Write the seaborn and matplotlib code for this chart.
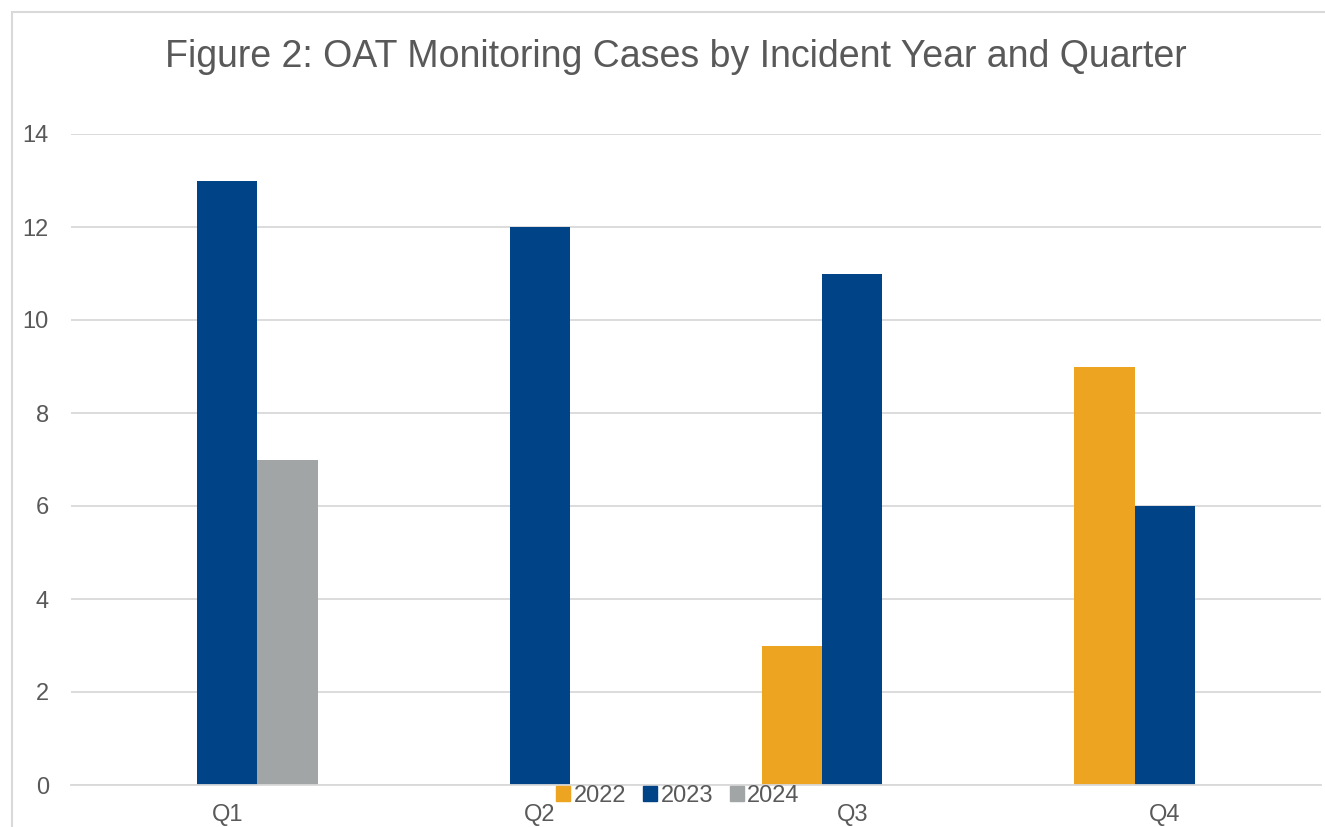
import pandas as pd
import matplotlib.pyplot as plt
import matplotlib.patches as mpatches
import seaborn as sns

# Data
quarters = ['Q1', 'Q2', 'Q3', 'Q4']
years = ['2022', '2023', '2024']
cases_2022 = [None, None, 3, 9]
cases_2023 = [13, 12, 11, 6]
cases_2024 = [7, None, None, None]

rows = []
for yr, vals in zip(years, [cases_2022, cases_2023, cases_2024]):
    for q, v in zip(quarters, vals):
        if v is not None:
            rows.append({'Quarter': q, 'Year': yr, 'Cases': v})
df = pd.DataFrame(rows)

colors = {'2022': '#EDA521', '2023': '#004386', '2024': '#A2A5A6'}
text_color = '#595959'

sns.set_style('white')
plt.rcParams['font.family'] = ['Liberation Sans', 'DejaVu Sans']

fig = plt.figure(figsize=(13.25, 8.27), dpi=100)
ax = fig.add_axes([71 / 1325, 42 / 827, 1250 / 1325, (785 - 134) / 827])

sns.barplot(data=df, x='Quarter', y='Cases', hue='Year', order=quarters,
            hue_order=years, palette=colors, width=0.58, saturation=1,
            linewidth=0, ax=ax, legend=False)

ax.set_ylim(0, 14)
ax.set_yticks(range(0, 15, 2))
ax.yaxis.grid(True, color='#D9D9D9', linewidth=1.3)
ax.set_axisbelow(True)
for s in ['top', 'right', 'left']:
    ax.spines[s].set_visible(False)
ax.spines['bottom'].set_color('#D9D9D9')
ax.spines['bottom'].set_linewidth(1.3)
ax.set_xlabel('')
ax.set_ylabel('')
ax.tick_params(axis='both', length=0, labelsize=17, labelcolor=text_color)
ax.tick_params(axis='y', pad=16)
ax.tick_params(axis='x', pad=14)

fig.text(0.51, 1 - 57 / 827, 'Figure 2: OAT Monitoring Cases by Incident Year and Quarter',
         ha='center', va='center', fontsize=27, color=text_color)

handles = [mpatches.Patch(color=colors[y], label=y) for y in years]
fig.legend(handles=handles, loc='center', bbox_to_anchor=(678 / 1325, 1 - 796 / 827),
           ncol=3, frameon=False, fontsize=17, handlelength=0.6, handleheight=0.6,
           handletextpad=0.15, columnspacing=0.7, labelcolor=text_color)

# chart border
fig.patches.append(mpatches.Rectangle((12 / 1325, -0.1), 1.2, 1 - 12 / 827 + 0.1,
                                      transform=fig.transFigure, fill=False,
                                      edgecolor='#D9D9D9', linewidth=1.5))

fig.savefig('out.png', dpi=100)
